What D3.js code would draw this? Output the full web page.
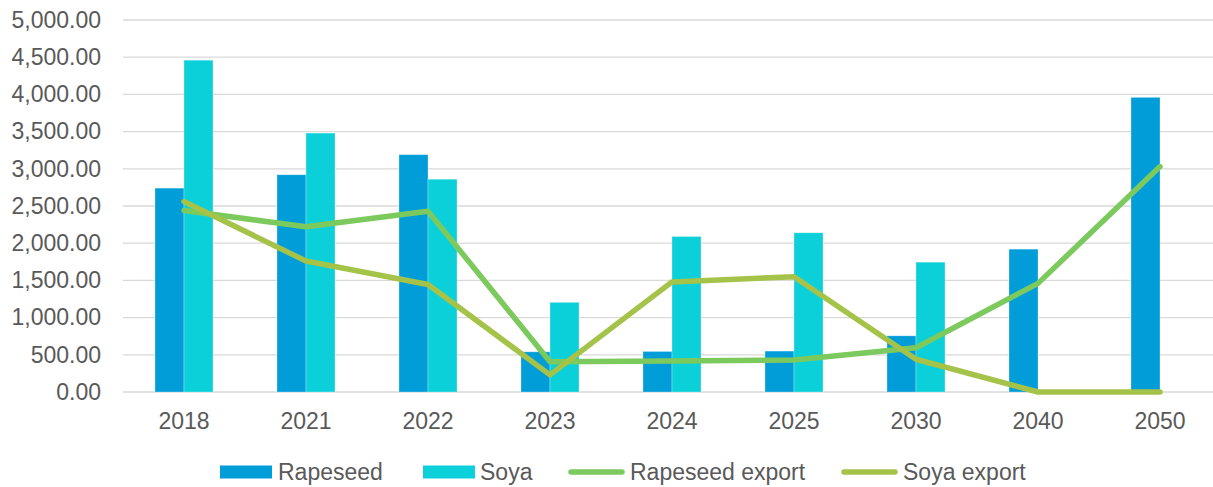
<!DOCTYPE html>
<html>
<head>
<meta charset="utf-8">
<script src="https://cdn.jsdelivr.net/npm/d3@7"></script>
<style>
  html, body { margin: 0; padding: 0; background: #fff; }
  svg { display: block; font-family: "Liberation Sans", Arial, sans-serif; }
</style>
</head>
<body>
<svg id="chart" width="1213" height="487"></svg>
<script>
// Years on the category axis
const categories = ["2018", "2021", "2022", "2023", "2024", "2025", "2030", "2040", "2050"];

// Bar series
const rapeseed = [2740, 2920, 3190, 540, 545, 550, 755, 1920, 3960];
const soya = [4460, 3480, 2860, 1205, 2090, 2140, 1745, 10, 0];

// Line series
const rapeseedExport = [2440, 2220, 2430, 408, 417, 430, 595, 1460, 3030];
const soyaExport = [2560, 1760, 1445, 230, 1480, 1550, 440, 0, 0];

// Value axis ticks
const yTicks = [0, 500, 1000, 1500, 2000, 2500, 3000, 3500, 4000, 4500, 5000];

const colors = {
  rapeseed: "#009DD9",
  soya: "#0BD0D9",
  rapeseedExport: "#7CC95E",
  soyaExport: "#A5C249"
};

const textColor = "#595959";
const fontSize = "23px";

const svg = d3.select("#chart");
const plotLeft = 123, plotRight = 1221, plotTop = 20, plotBottom = 392;

const x = d3.scaleBand().domain(categories).range([plotLeft, plotRight]).paddingInner(0).paddingOuter(0);
const y = d3.scaleLinear().domain([0, 5000]).range([plotBottom, plotTop]);

// Horizontal gridlines
svg.append("g")
  .selectAll("line")
  .data(yTicks)
  .join("line")
  .attr("x1", plotLeft).attr("x2", plotRight)
  .attr("y1", d => y(d)).attr("y2", d => y(d))
  .attr("stroke", "#D9D9D9")
  .attr("stroke-width", 1.3);

// Value axis labels
const yAxis = d3.axisLeft(y).tickValues(yTicks).tickSize(0).tickPadding(0)
  .tickFormat(d3.format(",.2f"));
const gy = svg.append("g").attr("transform", `translate(${101},0)`).call(yAxis);
gy.select(".domain").remove();
gy.selectAll("text")
  .attr("fill", textColor)
  .style("font-size", fontSize)
  .style("font-family", "'Liberation Sans', Arial, sans-serif");

// Category axis labels
const xAxis = d3.axisBottom(x).tickSize(0).tickPadding(0);
const gx = svg.append("g").attr("transform", `translate(0,${413})`).call(xAxis);
gx.select(".domain").remove();
gx.selectAll("text")
  .attr("fill", textColor)
  .style("font-size", fontSize)
  .style("font-family", "'Liberation Sans', Arial, sans-serif");

// Grouped bars inside each band
const barW = 29;
const sub = d3.scaleBand().domain(["rapeseed", "soya"])
  .range([x.bandwidth() / 2 - barW, x.bandwidth() / 2 + barW]);

const barSeries = [
  { key: "rapeseed", values: rapeseed },
  { key: "soya", values: soya }
];

barSeries.forEach(s => {
  svg.append("g")
    .selectAll("rect")
    .data(categories.map((c, i) => ({ c, v: s.values[i] })))
    .join("rect")
    .attr("x", d => x(d.c) + sub(s.key))
    .attr("width", sub.bandwidth())
    .attr("y", d => y(d.v))
    .attr("height", d => plotBottom - y(d.v))
    .attr("fill", colors[s.key])
    .attr("stroke", "rgba(255,255,255,0.35)")
    .attr("stroke-width", 0.8);
});

// Export lines through band centers
const line = d3.line()
  .x((d, i) => x(categories[i]) + x.bandwidth() / 2)
  .y(d => y(d));

[
  { key: "rapeseedExport", values: rapeseedExport },
  { key: "soyaExport", values: soyaExport }
].forEach(s => {
  svg.append("path")
    .datum(s.values)
    .attr("d", line)
    .attr("fill", "none")
    .attr("stroke", colors[s.key])
    .attr("stroke-width", 5.5)
    .attr("stroke-linecap", "round")
    .attr("stroke-linejoin", "round");
});

// Legend
const legendY = 472;
const legend = svg.append("g");
const legendItems = [
  { label: "Rapeseed", key: "rapeseed", type: "rect", x: 220, tx: 278 },
  { label: "Soya", key: "soya", type: "rect", x: 423, tx: 480 },
  { label: "Rapeseed export", key: "rapeseedExport", type: "line", x: 568, tx: 630 },
  { label: "Soya export", key: "soyaExport", type: "line", x: 841, tx: 903 }
];
legendItems.forEach(it => {
  if (it.type === "rect") {
    legend.append("rect")
      .attr("x", it.x).attr("y", legendY - 6.5)
      .attr("width", 52).attr("height", 13)
      .attr("fill", colors[it.key]);
  } else {
    legend.append("line")
      .attr("x1", it.x + 3).attr("x2", it.x + 54)
      .attr("y1", legendY).attr("y2", legendY)
      .attr("stroke", colors[it.key])
      .attr("stroke-width", 5.5)
      .attr("stroke-linecap", "round");
  }
  legend.append("text")
    .attr("x", it.tx)
    .attr("y", legendY)
    .attr("dy", "0.35em")
    .attr("fill", textColor)
    .style("font-size", fontSize)
    .text(it.label);
});
</script>
</body>
</html>
